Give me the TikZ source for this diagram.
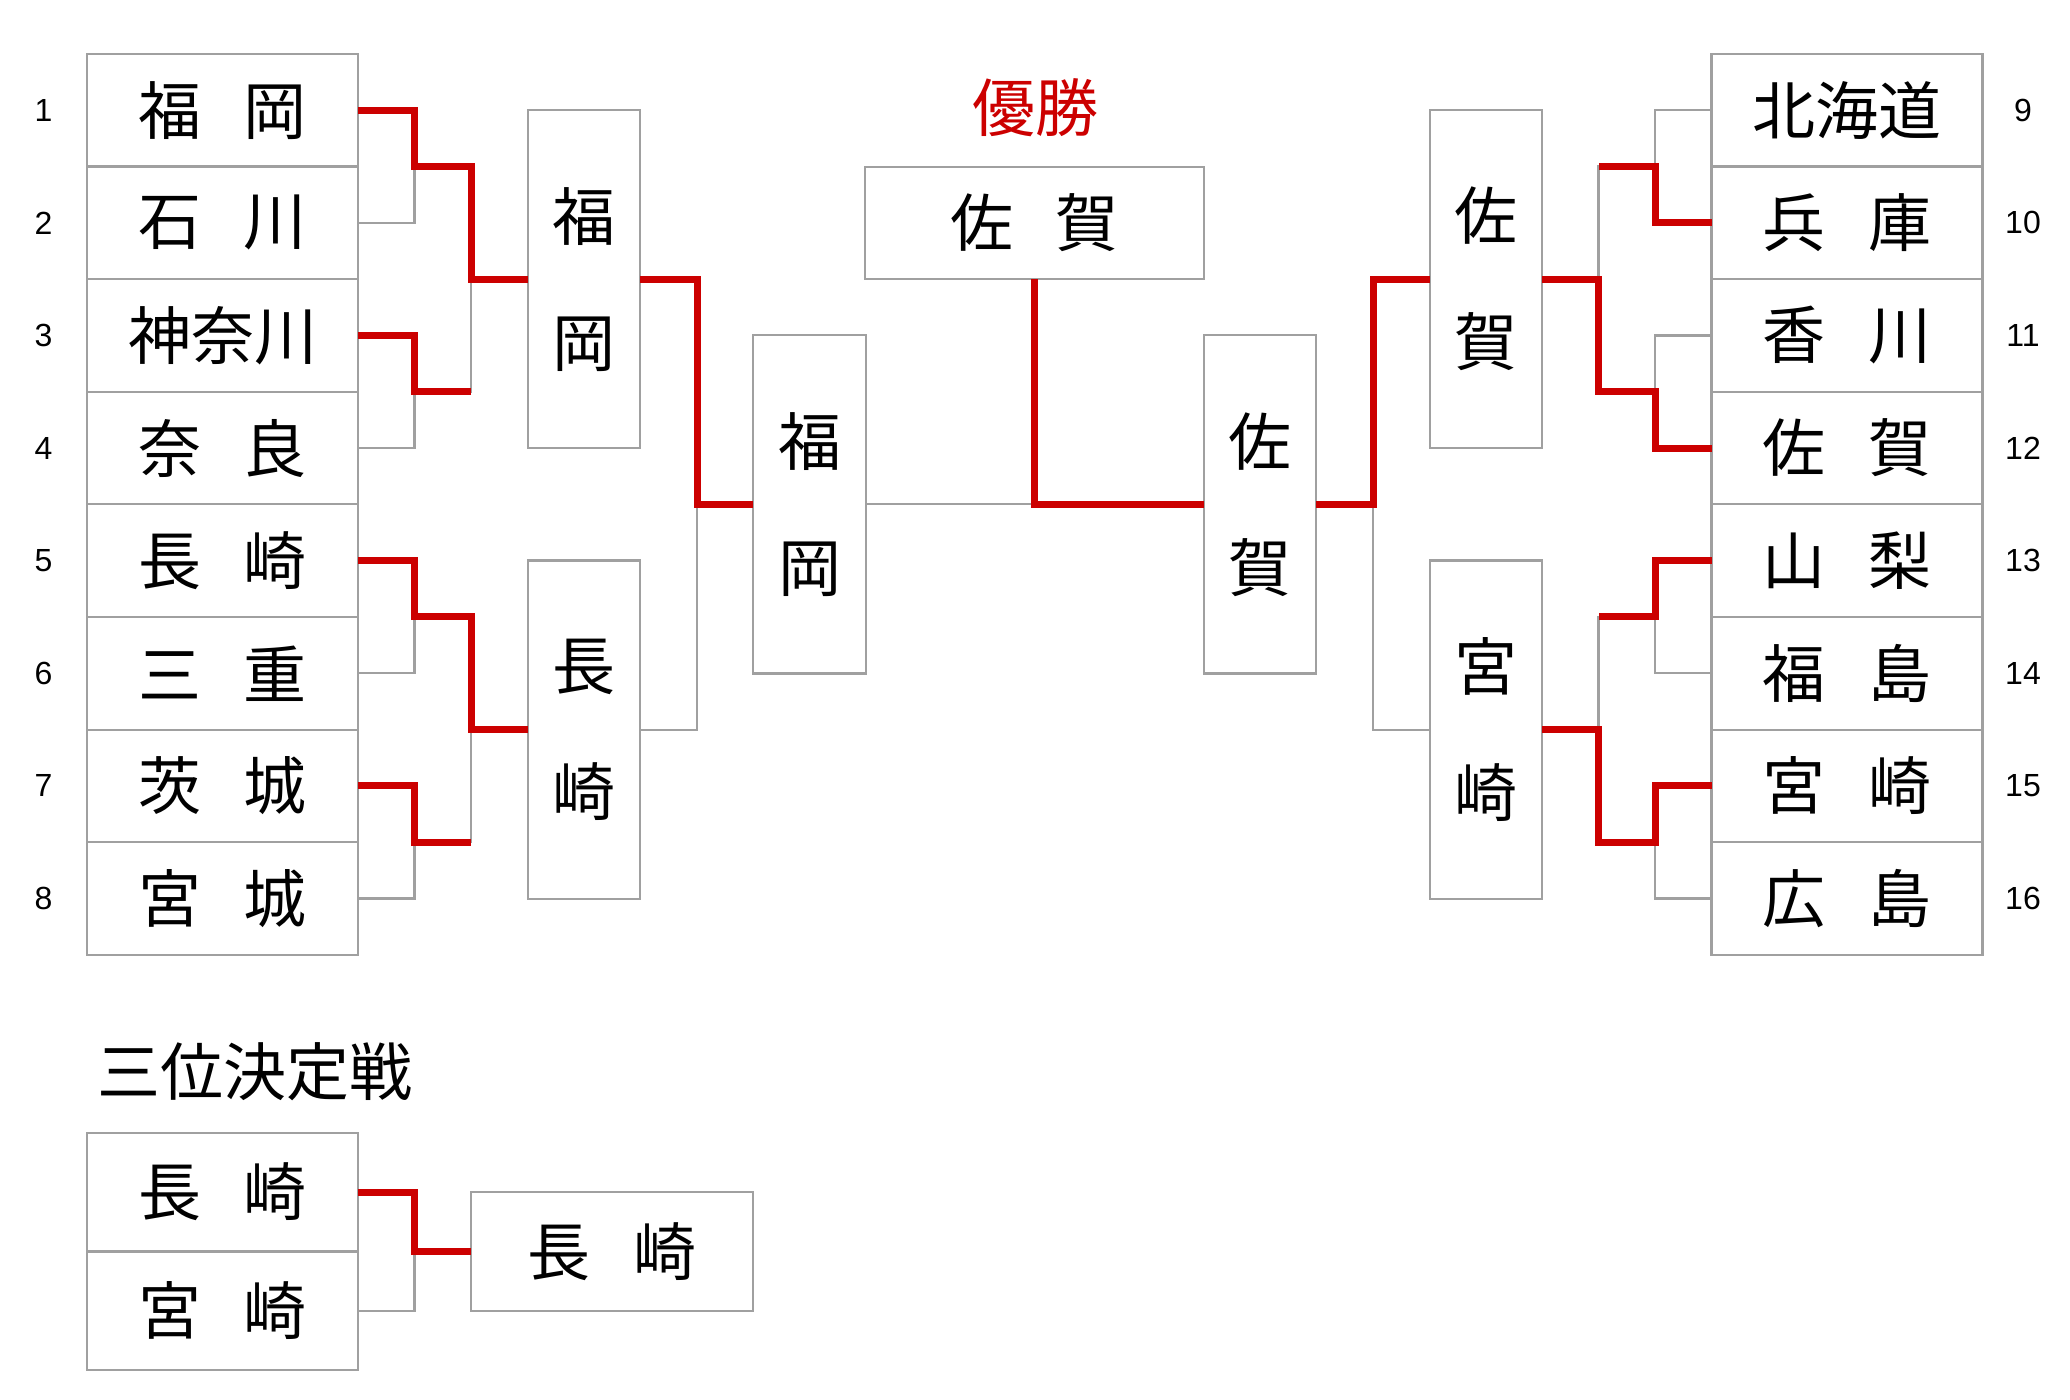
\documentclass[tikz,border=0pt]{standalone}
\usepackage{fontspec}
\setmainfont{Liberation Sans}
\newfontfamily\jpfont{Noto Sans CJK JP}
\usepackage{tikz}
\definecolor{wincol}{HTML}{CC0000}
\definecolor{boxgray}{HTML}{A0A0A0}
\newcommand\kspace{\hspace{0.67em}}
\tikzset{
  every node/.append style={inner sep=0pt, outer sep=0pt},
  grayline/.style={draw=boxgray, line width=1.1pt},
  redline/.style={draw=wincol, line width=3.5pt, line join=miter},
  team/.style={grayline, minimum width=135.5pt, minimum height=56.3pt, font=\jpfont\fontsize{31.5}{38}\selectfont},
  vbox/.style={grayline, minimum width=56.3pt, minimum height=169pt, align=center, font=\jpfont\fontsize{31.5}{63}\selectfont},
  num/.style={font=\fontsize{16}{19}\selectfont},
  title/.style={font=\jpfont\fontsize{31.5}{38}\selectfont}
}

\begin{document}
\begin{tikzpicture}[x=0.5pt, y=-0.5pt]
    \useasboundingbox (0,0) rectangle (2070,1400);
    \foreach \i in {1,...,8}
        \node[num] (n\i) at (43.5, {54+(\i-0.5)*112.6}) {\i};
    \foreach \i in {9,...,16}
        \node[num] (n\i) at (2023, {54+(\i-8.5)*112.6}) {\i};
    \foreach \name [count=\i] in {福\kspace 岡, 石\kspace 川, 神奈川, 奈\kspace 良, 長\kspace 崎, 三\kspace 重, 茨\kspace 城, 宮\kspace 城}
        \node[team] (t\i) at (222.5, {54+(\i-0.5)*112.6}) {\name};
    \foreach \name [count=\i from 9] in {北海道, 兵\kspace 庫, 香\kspace 川, 佐\kspace 賀, 山\kspace 梨, 福\kspace 島, 宮\kspace 崎, 広\kspace 島}
        \node[team] (t\i) at (1847, {54+(\i-8.5)*112.6}) {\name};
    \node[vbox] (r1) at (584, 279.2) {福\\岡};
    \node[vbox] (r2) at (584, 729.6) {長\\崎};
    \node[vbox] (s1) at (809.5, 504.4) {福\\岡};
    \node[vbox] (s2) at (1260, 504.4) {佐\\賀};
    \node[vbox] (r3) at (1486, 279.2) {佐\\賀};
    \node[vbox] (r4) at (1486, 729.6) {宮\\崎};
    \node[team, minimum width=169.5pt] (fin) at (1034.5, 223) {佐\kspace 賀};
    \node[title, text=wincol] (champ) at (1035, 108) {優勝};
    \node[title] (third) at (255, 1072) {三位決定戦};
    \node[team, minimum height=59.25pt] (p1) at (222.5, 1192) {長\kspace 崎};
    \node[team, minimum height=59.25pt] (p2) at (222.5, 1311) {宮\kspace 崎};
    \node[team, minimum width=141pt, minimum height=59.5pt] (p3) at (612, 1251.5) {長\kspace 崎};

    \coordinate (a1) at (414.5, 166.6);
    \coordinate (a2) at (414.5, 391.8);
    \coordinate (a3) at (414.5, 617);
    \coordinate (a4) at (414.5, 842.2);
    \coordinate (b1) at (471, 279.2);
    \coordinate (b2) at (471, 729.6);
    \coordinate (c1) at (697, 504.4);
    \coordinate (a5) at (1655, 166.6);
    \coordinate (a6) at (1655, 391.8);
    \coordinate (a7) at (1655, 617);
    \coordinate (a8) at (1655, 842.2);
    \coordinate (b3) at (1598.5, 279.2);
    \coordinate (b4) at (1598.5, 729.6);
    \coordinate (c2) at (1373, 504.4);
    \coordinate (d1) at (414.5, 1251.5);

    \draw[grayline] (t1.east) -| (a1) |- (t2.east);
    \draw[grayline] (t3.east) -| (a2) |- (t4.east);
    \draw[grayline] (t5.east) -| (a3) |- (t6.east);
    \draw[grayline] (t7.east) -| (a4) |- (t8.east);
    \draw[grayline] (a1) -| (b1) |- (a2);
    \draw[grayline] (a3) -| (b2) |- (a4);
    \draw[grayline] (b1) -- (r1.west);
    \draw[grayline] (b2) -- (r2.west);
    \draw[grayline] (r1.east) -| (c1) |- (r2.east);
    \draw[grayline] (c1) -- (s1.west);
    \draw[grayline] (s1.east) -| (fin.south) |- (s2.west);
    \draw[grayline] (t9.west) -| (a5) |- (t10.west);
    \draw[grayline] (t11.west) -| (a6) |- (t12.west);
    \draw[grayline] (t13.west) -| (a7) |- (t14.west);
    \draw[grayline] (t15.west) -| (a8) |- (t16.west);
    \draw[grayline] (a5) -| (b3) |- (a6);
    \draw[grayline] (a7) -| (b4) |- (a8);
    \draw[grayline] (b3) -- (r3.east);
    \draw[grayline] (b4) -- (r4.east);
    \draw[grayline] (r3.west) -| (c2) |- (r4.west);
    \draw[grayline] (c2) -- (s2.east);
    \draw[grayline] (p1.east) -| (d1) |- (p2.east);
    \draw[grayline] (d1) -- (p3.west);

    \draw[redline] (t1.east) -| (a1) -| (b1) -- (r1.west);
    \draw[redline] (t3.east) -| (a2) -- (a2 -| b1);
    \draw[redline] (t5.east) -| (a3) -| (b2) -- (r2.west);
    \draw[redline] (t7.east) -| (a4) -- (a4 -| b2);
    \draw[redline] (r1.east) -| (c1) -- (s1.west);
    \draw[redline] (s2.west) -| (fin.south);
    \draw[redline] (t10.west) -| (a5) -- (a5 -| b3);
    \draw[redline] (t12.west) -| (a6) -| (b3) -- (r3.east);
    \draw[redline] (t13.west) -| (a7) -- (a7 -| b4);
    \draw[redline] (t15.west) -| (a8) -| (b4) -- (r4.east);
    \draw[redline] (r3.west) -| (c2) -- (s2.east);
    \draw[redline] (p1.east) -| (d1) -- (p3.west);
\end{tikzpicture}
\end{document}
